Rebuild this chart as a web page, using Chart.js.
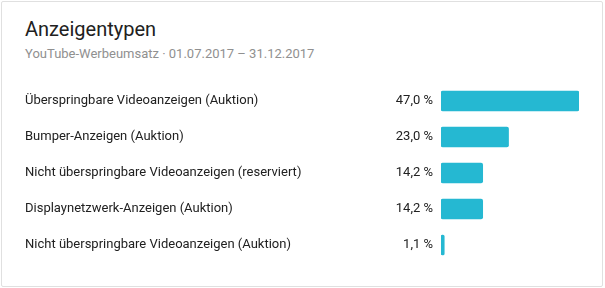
<!DOCTYPE html>
<html>
<head>
<meta charset="utf-8">
<script src="https://cdn.jsdelivr.net/npm/chart.js@4/dist/chart.umd.min.js"></script>
<style>
  html, body { margin: 0; padding: 0; background: #fff; }
  #wrap { position: relative; width: 605px; height: 288px; overflow: hidden; font-family: Roboto, "Noto Sans", sans-serif; }
  #card { position: absolute; left: 1px; top: 1px; width: 600px; height: 284px; border: 1px solid #e0e0e0; border-radius: 2px; }
  #title { position: absolute; left: 25px; top: 16px; font-size: 20px; color: #212121; line-height: 26px; }
  #sub { position: absolute; left: 25px; top: 46px; font-size: 13px; color: #909090; line-height: 16px; }
  canvas { position: absolute; left: 0; top: 0; }
</style>
</head>
<body>
<div id="wrap">
  <div id="card"></div>
  <div id="title">Anzeigentypen</div>
  <div id="sub">YouTube-Werbeumsatz · 01.07.2017 – 31.12.2017</div>
  <canvas id="c" width="605" height="288"></canvas>
</div>
<script>
const categories = [
  "Überspringbare Videoanzeigen (Auktion)",
  "Bumper-Anzeigen (Auktion)",
  "Nicht überspringbare Videoanzeigen (reserviert)",
  "Displaynetzwerk-Anzeigen (Auktion)",
  "Nicht überspringbare Videoanzeigen (Auktion)"
];
const shares = [47.0, 23.0, 14.2, 14.2, 1.1];
const valueLabels = ["47,0 %", "23,0 %", "14,2 %", "14,2 %", "1,1 %"];

const labelPlugin = {
  id: 'rowLabels',
  afterDatasetsDraw(chart) {
    const ctx = chart.ctx;
    const y = chart.scales.y;
    ctx.save();
    ctx.font = '13px Roboto, "Noto Sans", sans-serif';
    ctx.fillStyle = '#212121';
    ctx.textBaseline = 'middle';
    categories.forEach((c, i) => {
      const py = y.getPixelForValue(i);
      ctx.textAlign = 'left';
      ctx.fillText(c, 25, py);
      ctx.textAlign = 'right';
      ctx.fillText(valueLabels[i], chart.chartArea.left - 8, py);
    });
    ctx.restore();
  }
};

new Chart(document.getElementById('c'), {
  type: 'bar',
  data: {
    labels: categories,
    datasets: [{
      data: shares,
      backgroundColor: '#25b8d2',
      borderRadius: 2,
      borderSkipped: false,
      barThickness: 20
    }]
  },
  options: {
    indexAxis: 'y',
    responsive: false,
    animation: false,
    layout: { padding: { left: 441, right: 26, top: 83, bottom: 25 } },
    scales: {
      x: { display: false, min: 0, max: 47 },
      y: { display: false }
    },
    plugins: { legend: { display: false }, tooltip: { enabled: false }, title: { display: false } }
  },
  plugins: [labelPlugin]
});
</script>
</body>
</html>
